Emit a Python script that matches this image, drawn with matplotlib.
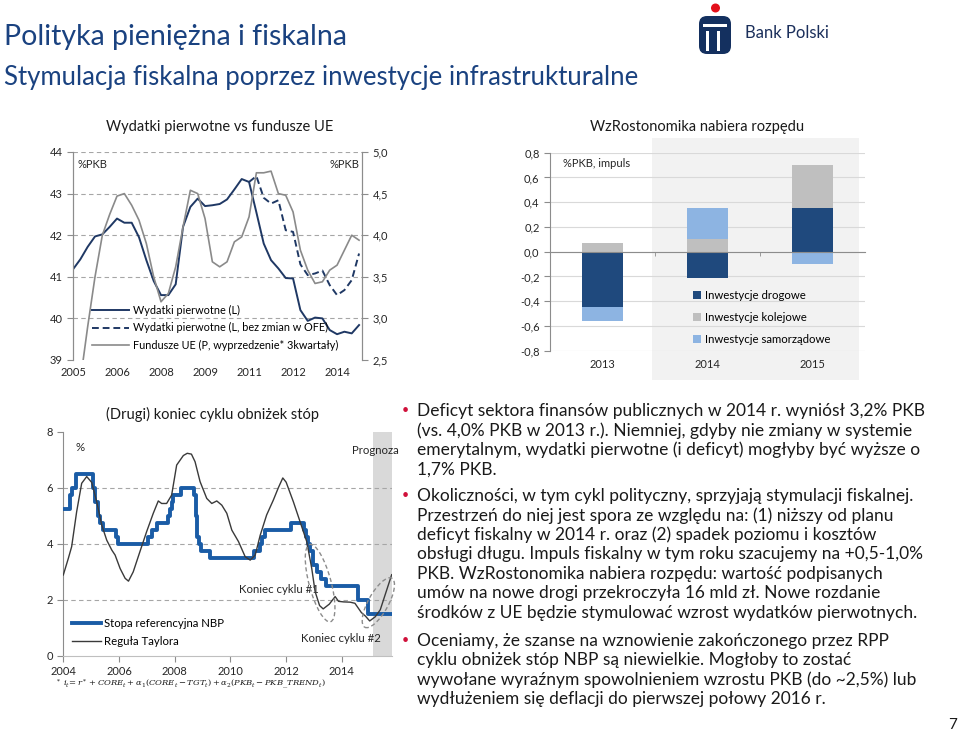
import numpy as np
import matplotlib
matplotlib.use("Agg")
import matplotlib.pyplot as plt
from matplotlib.patches import Rectangle, Ellipse, Circle, FancyBboxPatch
from matplotlib.transforms import ScaledTranslation
from matplotlib.ticker import FuncFormatter

plt.rcParams["font.family"] = ["Lato", "DejaVu Sans"]
plt.rcParams["mathtext.fontset"] = "dejavuserif"

W, H = 960, 733

# --- dane: wydatki pierwotne vs fundusze UE (kwartalnie, 2005Q1-2014Q4) ---
kwartaly = [f"{r}Q{q}" for r in range(2005, 2015) for q in range(1, 5)]
wydatki = [41.18, 41.42, 41.72, 41.97, 42.02, 42.2, 42.4, 42.3, 42.3, 41.95,
           41.4, 40.9, 40.56, 40.56, 40.82, 42.2, 42.68, 42.88, 42.7, 42.72,
           42.75, 42.86, 43.1, 43.35, 43.28, 42.55, 41.8, 41.4, 41.2, 40.97,
           40.96, 40.2, 39.94, 40.02, 40.0, 39.72, 39.62, 39.68, 39.64, 39.84]
ofe_od = "2011Q1"
wydatki_bez_ofe = [43.28, 43.42, 42.9, 42.76, 42.84, 42.12, 42.08, 41.3,
                   41.04, 41.08, 41.15, 40.8, 40.56, 40.68, 40.92, 41.56]
fundusze_ue = [1.7, 2.25, 2.9, 3.5, 4.0, 4.25, 4.47, 4.5, 4.36, 4.18,
               3.9, 3.5, 3.2, 3.3, 3.62, 4.1, 4.54, 4.5, 4.2, 3.68,
               3.62, 3.68, 3.92, 3.98, 4.22, 4.75, 4.75, 4.77, 4.5, 4.48,
               4.28, 3.82, 3.58, 3.42, 3.44, 3.58, 3.64, 3.82, 4.0, 3.94]

# --- dane: WzRostonomika ---
lata_inw = ["2013", "2014", "2015"]
drogowe = [-0.45, -0.21, 0.35]
kolejowe = [0.07, 0.10, 0.35]
samorzadowe = [-0.11, 0.25, -0.10]

# --- dane: stopa NBP i regula Taylora ---
nbp_od = [2004.0, 2004.25, 2004.33, 2004.45, 2005.05, 2005.15, 2005.25, 2005.33,
          2005.42, 2005.88, 2005.95, 2007.05, 2007.2, 2007.38, 2007.75, 2007.83,
          2007.9, 2007.95, 2008.22, 2008.7, 2008.75, 2008.8, 2008.88, 2008.95,
          2009.25, 2010.85, 2011.05, 2011.15, 2011.25, 2012.17, 2012.65, 2012.72,
          2012.8, 2012.87, 2012.95, 2013.12, 2013.25, 2013.42, 2014.58, 2014.95]
nbp = [5.25, 5.75, 6.0, 6.5, 6.0, 5.5, 5.0, 4.75, 4.5, 4.25, 4.0, 4.25, 4.5, 4.75,
       5.0, 5.25, 5.5, 5.75, 6.0, 5.75, 5.0, 4.25, 4.0, 3.75, 3.5, 3.75, 4.0, 4.25,
       4.5, 4.75, 4.5, 4.25, 4.0, 3.75, 3.25, 3.0, 2.75, 2.5, 2.0, 1.5]
koniec_danych = 2015.79
prognoza_od = 2015.13
taylor_lata = [2004.0, 2004.18, 2004.3, 2004.48, 2004.66, 2004.84, 2005.02, 2005.2,
               2005.38, 2005.56, 2005.74, 2005.86, 2006.04, 2006.22, 2006.34, 2006.51,
               2006.75, 2006.99, 2007.23, 2007.41, 2007.53, 2007.71, 2007.89, 2008.07,
               2008.31, 2008.45, 2008.6, 2008.73, 2008.91, 2009.15, 2009.33, 2009.51,
               2009.69, 2009.87, 2010.05, 2010.29, 2010.53, 2010.71, 2010.89, 2011.07,
               2011.3, 2011.54, 2011.72, 2011.88, 2012.0, 2012.26, 2012.5, 2012.74,
               2012.92, 2013.04, 2013.2, 2013.33, 2013.55, 2013.76, 2013.88, 2014.06,
               2014.3, 2014.47, 2014.7, 2014.85, 2015.0, 2015.2, 2015.38, 2015.56, 2015.79]
taylor = [2.89, 3.48, 3.9, 5.15, 6.16, 6.4, 6.19, 5.5, 4.67, 4.13, 3.78, 3.6,
          3.12, 2.77, 2.67, 3.0, 3.72, 4.43, 5.09, 5.53, 5.44, 5.44, 5.74, 6.81,
          7.15, 7.23, 7.2, 6.93, 6.22, 5.62, 5.44, 5.53, 5.38, 5.09, 4.49, 4.08,
          3.54, 3.42, 3.6, 4.31, 5.03, 5.56, 6.0, 6.35, 6.2, 5.5, 4.79, 4.08,
          3.12, 2.3, 1.8, 1.68, 1.85, 2.12, 1.95, 1.93, 1.92, 1.88, 1.55, 1.42,
          1.25, 1.4, 1.65, 2.2, 2.9]

punkt1 = ["Deficyt sektora finansów publicznych w 2014 r. wyniósł 3,2% PKB",
          "(vs. 4,0% PKB w 2013 r.). Niemniej, gdyby nie zmiany w systemie",
          "emerytalnym, wydatki pierwotne (i deficyt) mogłyby być wyższe o",
          "1,7% PKB."]
punkt2 = ["Okoliczności, w tym cykl polityczny, sprzyjają stymulacji fiskalnej.",
          "Przestrzeń do niej jest spora ze względu na: (1) niższy od planu",
          "deficyt fiskalny w 2014 r. oraz (2) spadek poziomu i kosztów",
          "obsługi długu. Impuls fiskalny w tym roku szacujemy na +0,5-1,0%",
          "PKB. WzRostonomika nabiera rozpędu: wartość podpisanych",
          "umów na nowe drogi przekroczyła 16 mld zł. Nowe rozdanie",
          "środków z UE będzie stymulować wzrost wydatków pierwotnych."]
punkt3 = ["Oceniamy, że szanse na wznowienie zakończonego przez RPP",
          "cyklu obniżek stóp NBP są niewielkie. Mogłoby to zostać",
          "wywołane wyraźnym spowolnieniem wzrostu PKB (do ~2,5%) lub",
          "wydłużeniem się deflacji do pierwszej połowy 2016 r."]

GRANAT = "#1f3864"
NAGLOWEK = "#1a4280"
SZARY_OS = "#8c8c8c"
TEKST = "#262626"


def px_axes(fig, left, top, right, bottom):
    return fig.add_axes([left / W, 1 - bottom / H, (right - left) / W, (bottom - top) / H])


def fig_text(fig, x, y, s, **kw):
    kw.setdefault("va", "center")
    return fig.text(x / W, 1 - y / H, s, **kw)


def styl_osi(ax, fontsize=8):
    for s in ax.spines.values():
        s.set_color(SZARY_OS)
        s.set_linewidth(0.8)
    ax.tick_params(colors=SZARY_OS, labelcolor=TEKST, labelsize=fontsize,
                   direction="out", length=4, width=0.8)


def fmt_przecinek(v, p):
    s = f"{v:.1f}"
    if s == "-0.0":
        s = "0.0"
    return s.replace(".", ",")


przecinek = FuncFormatter(fmt_przecinek)

fig = plt.figure(figsize=(W / 100, H / 100), dpi=100)

# ---------- naglowek ----------
fig_text(fig, 4, 37, "Polityka pieniężna i fiskalna", fontsize=20.5, color=NAGLOWEK)
fig_text(fig, 4, 78, "Stymulacja fiskalna poprzez inwestycje infrastrukturalne",
         fontsize=18.5, color=NAGLOWEK)

ax_logo = px_axes(fig, 690, 0, 740, 60)
ax_logo.set_xlim(0, 50)
ax_logo.set_ylim(60, 0)
ax_logo.axis("off")
ax_logo.add_patch(FancyBboxPatch((9, 16), 32, 38, boxstyle="round,pad=0,rounding_size=8",
                                 fc="#14305f", ec="none"))
ax_logo.add_patch(Rectangle((13, 24), 24, 3, fc="white", ec="none"))
ax_logo.add_patch(Rectangle((16, 31), 2.5, 20, fc="white", ec="none"))
ax_logo.add_patch(Rectangle((27, 31), 2.5, 20, fc="white", ec="none"))
ax_logo.add_patch(Circle((25.5, 8), 4.5, fc="#e3101b", ec="none"))
fig_text(fig, 745, 33, "Bank Polski", fontsize=12, color="#1b2f5b")

# ---------- wykres 1: wydatki pierwotne vs fundusze UE ----------
ax1 = px_axes(fig, 73, 152, 362, 360)
x_kw = np.arange(len(kwartaly))
i_ofe = kwartaly.index(ofe_od)
l1, = ax1.plot(x_kw, wydatki, color=GRANAT, lw=1.4, label="Wydatki pierwotne (L)")
l2, = ax1.plot(x_kw[i_ofe:], wydatki_bez_ofe, color=GRANAT, lw=1.4, ls=(0, (3.5, 2)),
               label="Wydatki pierwotne (L, bez zmian w OFE)")
ax1.set_xlim(0, 39.4)
ax1.set_ylim(39, 44)
ax1.set_yticks(range(39, 45))
ax1.set_xticks(x_kw[::6])
ax1.set_xticklabels([k[:4] for k in kwartaly[::6]])
styl_osi(ax1)
ax1.tick_params(axis="x", length=0, pad=5)
ax1.spines["top"].set_visible(False)
ax1.spines["bottom"].set_visible(False)
ax1.grid(axis="y", color="#a6a6a6", ls=(0, (4, 3)), lw=0.8)
ax1.get_ygridlines()[0].set_visible(False)

ax1r = ax1.twinx()
l3, = ax1r.plot(x_kw, fundusze_ue, color="#8a8a8a", lw=1.2,
                label="Fundusze UE (P, wyprzedzenie* 3kwartały)")
ax1r.set_ylim(2.5, 5.0)
ax1r.set_yticks(np.arange(2.5, 5.01, 0.5))
ax1r.yaxis.set_major_formatter(przecinek)
styl_osi(ax1r)
ax1r.spines["top"].set_visible(False)
ax1r.spines["bottom"].set_visible(False)
ax1r.text(0.015, 0.94, "%PKB", transform=ax1r.transAxes, fontsize=8, color=TEKST, va="center")
ax1r.text(0.99, 0.94, "%PKB", transform=ax1r.transAxes, fontsize=8, color=TEKST,
          va="center", ha="right")
ax1r.legend(handles=[l1, l2, l3], loc="upper left", bbox_to_anchor=(0.065, 0.265),
            frameon=False, fontsize=7.8, handlelength=3.4, handletextpad=0.4,
            labelspacing=0.6, borderpad=0, borderaxespad=0)
fig_text(fig, 220, 127, "Wydatki pierwotne vs fundusze UE", ha="center", fontsize=10.5,
         color="#1a1a1a")

# ---------- wykres 2: WzRostonomika ----------
fig.add_artist(Rectangle((652 / W, 1 - 380 / H), 207 / W, 242 / H,
                         transform=fig.transFigure, fc="#f2f2f2", ec="none", zorder=-1))
ax2 = px_axes(fig, 550, 152.7, 865, 350.7)
ax2.set_facecolor("none")
x_inw = np.arange(len(lata_inw))
dodatnie = np.zeros(len(lata_inw))
ujemne = np.zeros(len(lata_inw))
for nazwa, wart, kolor in [("Inwestycje drogowe", drogowe, "#1f497d"),
                           ("Inwestycje kolejowe", kolejowe, "#bfbfbf"),
                           ("Inwestycje samorządowe", samorzadowe, "#8db4e2")]:
    wart = np.array(wart)
    dol = np.where(wart >= 0, dodatnie, ujemne)
    ax2.bar(x_inw, wart, bottom=dol, width=0.39, color=kolor, label=nazwa, zorder=3)
    dodatnie = dodatnie + np.clip(wart, 0, None)
    ujemne = ujemne + np.clip(wart, None, 0)
ax2.set_xlim(-0.5, len(lata_inw) - 0.5)
ax2.set_ylim(-0.8, 0.8)
ax2.set_yticks(np.arange(-0.8, 0.81, 0.2))
ax2.yaxis.set_major_formatter(przecinek)
styl_osi(ax2)
for s in ["top", "right"]:
    ax2.spines[s].set_visible(False)
ax2.spines["bottom"].set_position(("data", 0))
ax2.spines["bottom"].set_zorder(4)
ax2.set_xticks(x_inw)
ax2.set_xticklabels([])
ax2.set_xticks(x_inw[:-1] + 0.5, minor=True)
ax2.tick_params(axis="x", which="major", length=0)
ax2.tick_params(axis="x", which="minor", length=3, color=SZARY_OS, direction="out")
ax2.grid(axis="y", color="#d9d9d9", lw=0.8, zorder=0)
ax2.set_axisbelow(True)
for xi, rok in zip(x_inw, lata_inw):
    ax2.text(xi, -0.8, rok, ha="center", va="top", fontsize=8, color=TEKST,
             transform=ax2.transData + ScaledTranslation(0, -6 / 72, fig.dpi_scale_trans))
ax2.text(0.04, 0.945, "%PKB, impuls", transform=ax2.transAxes, fontsize=8, color=TEKST,
         va="center")
ax2.legend(loc="upper left", bbox_to_anchor=(0.455, 0.305), frameon=False, fontsize=8.2,
           handlelength=0.7, handleheight=0.7, handletextpad=0.3, labelspacing=0.95,
           borderpad=0, borderaxespad=0)
fig_text(fig, 697, 127, "WzRostonomika nabiera rozpędu", ha="center", fontsize=10.5,
         color="#1a1a1a")

# ---------- wykres 3: koniec cyklu obnizek ----------
ax3 = px_axes(fig, 63.3, 431.7, 391.7, 656)
ax3.axvspan(prognoza_od, koniec_danych, color="#d9d9d9", lw=0, zorder=0)
n1, = ax3.plot(nbp_od + [koniec_danych], nbp + [nbp[-1]], drawstyle="steps-post",
               color="#1a5ca6", lw=2.8, label="Stopa referencyjna NBP", zorder=3)
t1, = ax3.plot(taylor_lata, taylor, color="#3a3a3a", lw=1.0, label="Reguła Taylora", zorder=4)
ax3.set_xlim(2004, koniec_danych)
ax3.set_ylim(0, 8)
ax3.set_yticks(range(0, 9, 2))
ax3.set_xticks(range(2004, 2016, 2))
styl_osi(ax3)
for s in ["top", "right"]:
    ax3.spines[s].set_visible(False)
ax3.spines["bottom"].set_color("#bfbfbf")
ax3.grid(axis="y", color="#a6a6a6", ls=(0, (4, 3)), lw=0.8)
ax3.get_ygridlines()[0].set_visible(False)
ax3.get_ygridlines()[-1].set_visible(False)


def elipsa(ax, x, y, szer_px, wys_px, kat):
    e = Ellipse((0, 0), szer_px / 100, wys_px / 100, angle=kat,
                transform=fig.dpi_scale_trans + ScaledTranslation(x, y, ax.transData),
                fill=False, ec="#8c8c8c", lw=1.0, ls=(0, (3, 2)), zorder=5, clip_on=False)
    ax.add_artist(e)


elipsa(ax3, 2013.22, 2.6, 22, 80, 15)
elipsa(ax3, 2015.31, 1.9, 20, 56, -29)
ax3.text(2011.75, 2.36, "Koniec cyklu #1", ha="center", va="center", fontsize=8.2, color=TEKST)
ax3.text(2013.97, 0.64, "Koniec cyklu #2", ha="center", va="center", fontsize=8.2, color=TEKST)
ax3.text(2016.05, 7.32, "Prognoza", ha="right", va="center", fontsize=8.2, color=TEKST,
         clip_on=False)
ax3.text(2004.45, 7.43, "%", ha="left", va="center", fontsize=8.2, color=TEKST)
ax3.legend(handles=[n1, t1], loc="upper left", bbox_to_anchor=(0.026, 0.17), frameon=False,
           fontsize=8.2, handlelength=2.6, handletextpad=0.2, labelspacing=0.6,
           borderpad=0, borderaxespad=0)
fig_text(fig, 212, 414, "(Drugi) koniec cyklu obniżek stóp", ha="center", fontsize=10.5,
         color="#1a1a1a")
fig_text(fig, 55, 684,
         r"$^*\ i_t\!= r^* + CORE_t + \alpha_1(CORE_t - TGT_t) + \alpha_2(PKB_t - PKB\_TREND_t)$",
         fontsize=6.0, color="#1a1a1a")

# ---------- tekst po prawej ----------
odstep = 19.45
for start, linie in [(411, punkt1), (496, punkt2), (641, punkt3)]:
    fig_text(fig, 405, start - 1, "•", fontsize=9, color="#d0103a", ha="center")
    for i, linia in enumerate(linie):
        fig_text(fig, 417, start + i * odstep, linia, fontsize=12.5, color="#1a1a1a")

fig_text(fig, 953, 725, "7", fontsize=11, color="#1a1a1a", ha="center")

fig.savefig("out.png", dpi=100)
